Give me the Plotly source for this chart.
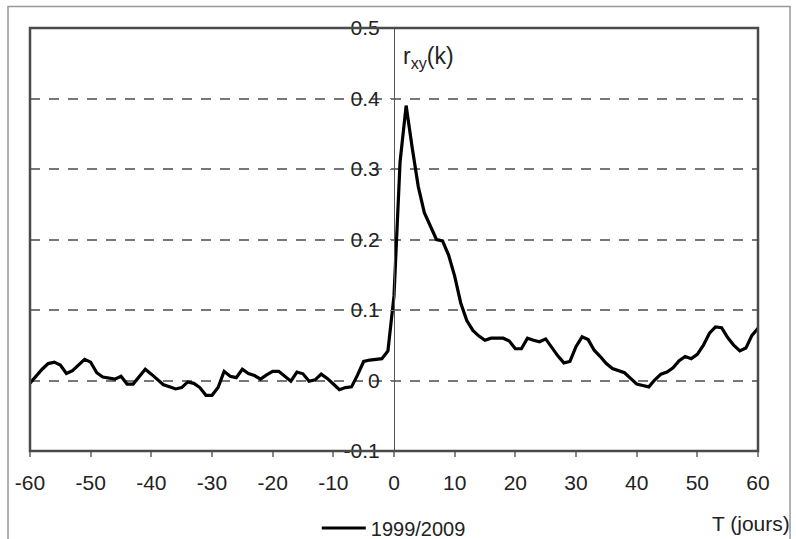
import plotly.graph_objects as go

lags = list(range(-60, 61))
r_xy = [
    -0.004, 0.006, 0.016, 0.024, 0.026, 0.022, 0.010, 0.014, 0.022, 0.030,   # -60..-51
    0.026, 0.011, 0.005, 0.003, 0.002, 0.006, -0.005, -0.005, 0.006, 0.016,  # -50..-41
    0.009, 0.001, -0.006, -0.009, -0.012, -0.010, -0.002, -0.004, -0.010, -0.021,  # -40..-31
    -0.021, -0.010, 0.013, 0.006, 0.004, 0.016, 0.010, 0.007, 0.002, 0.008,  # -30..-21
    0.013, 0.013, 0.006, -0.001, 0.012, 0.0095, -0.001, 0.001, 0.009, 0.003,  # -20..-11
    -0.005, -0.013, -0.010, -0.009, 0.008, 0.027, 0.029, 0.030, 0.031, 0.042,  # -10..-1
    0.12,  # 0
    0.31, 0.39, 0.33, 0.275, 0.238, 0.22, 0.200, 0.198, 0.178, 0.148,  # 1..10
    0.11, 0.085, 0.071, 0.063, 0.057, 0.060, 0.060, 0.060, 0.056, 0.045,  # 11..20
    0.045, 0.060, 0.057, 0.055, 0.059, 0.047, 0.035, 0.025, 0.027, 0.048,  # 21..30
    0.062, 0.058, 0.043, 0.034, 0.024, 0.017, 0.014, 0.011, 0.003, -0.005,  # 31..40
    -0.007, -0.009, 0.001, 0.009, 0.012, 0.018, 0.028, 0.034, 0.031, 0.037,  # 41..50
    0.050, 0.067, 0.076, 0.075, 0.061, 0.050, 0.042, 0.046, 0.064, 0.074,  # 51..60
]

x_tick_vals = [-60, -50, -40, -30, -20, -10, 0, 10, 20, 30, 40, 50, 60]
x_tick_text = ["-60", "-50", "-40", "-30", "-20", "-10", "0", "10", "20", "30", "40", "50", "60"]
y_tick_vals = [-0.1, 0, 0.1, 0.2, 0.3, 0.4, 0.5]
y_tick_text = ["-0.1", "0", "0.1", "0.2", "0.3", "0.4", "0.5"]
series_name = "1999/2009"
x_title = "T (jours)"
y_title = "r<sub>xy</sub>(k)"

FONT = "Liberation Sans, Arial, sans-serif"

fig = go.Figure()
fig.add_trace(go.Scatter(
    x=lags, y=r_xy, mode="lines", name=series_name,
    line=dict(color="black", width=3.2),
))

fig.update_layout(
    width=796, height=539,
    margin=dict(l=30, r=38, t=28, b=88, autoexpand=False),
    paper_bgcolor="white", plot_bgcolor="white",
    font=dict(family=FONT, size=20, color="#222"),
    showlegend=True,
    legend=dict(
        xref="container", yref="container",
        x=0.398, y=0.0204, xanchor="left", yanchor="middle",
        orientation="h", bgcolor="rgba(0,0,0,0)", itemwidth=44,
        font=dict(size=20, color="#222"),
    ),
    xaxis=dict(
        range=[-60, 60], tickvals=x_tick_vals, ticktext=x_tick_text,
        showgrid=False, zeroline=False, showline=False,
        ticks="outside", ticklen=5, tickcolor="#888", tickwidth=1.5,
        ticklabelstandoff=8,
        tickfont=dict(size=21, color="#222"),
    ),
    yaxis=dict(
        range=[-0.1, 0.5], tickvals=y_tick_vals, ticktext=y_tick_text,
        anchor="free", position=0.5, side="left",
        showline=True, linecolor="#555", linewidth=1,
        showgrid=True, gridcolor="#777", gridwidth=1.5, griddash="10px,9px",
        zeroline=False,
        ticks="outside", ticklen=4, tickcolor="#777",
        ticklabelstandoff=6,
        tickfont=dict(size=21, color="#222"),
    ),
    shapes=[
        dict(type="rect", xref="paper", yref="paper", x0=0, x1=1, y0=0, y1=1,
             line=dict(color="#4a4a4a", width=2.5), layer="above"),
        dict(type="rect", xref="paper", yref="paper", x0=-0.0302, x1=1.044,
             y0=-0.25, y1=1.051, line=dict(color="#999", width=1.5), layer="below"),
    ],
    annotations=[
        dict(text=y_title, xref="paper", yref="paper", x=0.51, y=0.93,
             xanchor="left", yanchor="middle", showarrow=False,
             font=dict(size=23, color="#222")),
        dict(text=x_title, xref="paper", yref="paper", x=1.047, y=-0.172,
             xanchor="right", yanchor="middle", showarrow=False,
             font=dict(size=21, color="#222")),
    ],
)

fig.write_html(
    "out.html",
    config={"displayModeBar": False},
    post_script="document.body.style.margin='0';document.body.style.overflow='hidden';",
)
